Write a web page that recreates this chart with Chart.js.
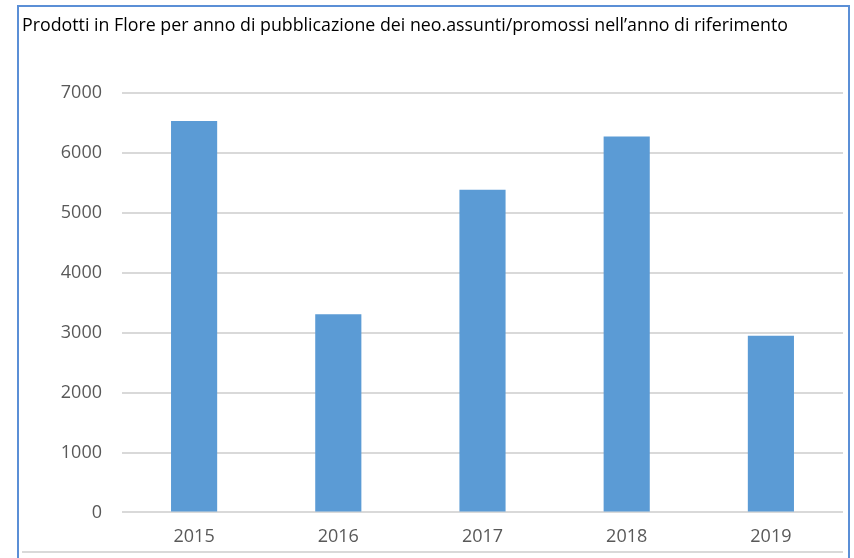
<!DOCTYPE html>
<html>
<head>
<meta charset="utf-8">
<script src="https://cdn.jsdelivr.net/npm/chart.js@4.4.0/dist/chart.umd.min.js"></script>
<style>
    body { margin: 0; background: #fff; }
    #wrap { position: relative; width: 854px; height: 558px; overflow: hidden; }
    #frame {
        position: absolute; left: 17px; top: 5px; width: 829px; height: 560px;
        border: 2px solid #5b8fd6; pointer-events: none;
    }
    #baseline {
        position: absolute; left: 22px; top: 551px; width: 821px; height: 2px;
        background: #d9d9d9;
    }
</style>
</head>
<body>
<div id="wrap">
    <canvas id="floreChart" width="854" height="558"></canvas>
    <div id="frame"></div>
    <div id="baseline"></div>
</div>
<script>
const chartTitle = 'Prodotti in Flore per anno di pubblicazione dei neo.assunti/promossi nell\u2019anno di riferimento';
const years = ['2015', '2016', '2017', '2018', '2019'];
const prodotti = [6540, 3310, 5390, 6280, 2950];
const yTicks = [0, 1000, 2000, 3000, 4000, 5000, 6000, 7000];

const tickColor = '#595959';
const gridColor = '#d9d9d9';

const ctx = document.getElementById('floreChart').getContext('2d');
const floreChart = new Chart(ctx, {
    type: 'bar',
    data: {
        labels: years,
        datasets: [{
            label: 'Prodotti',
            data: prodotti,
            backgroundColor: '#5b9bd5',
            borderWidth: 0,
            categoryPercentage: 1,
            barPercentage: 0.32
        }]
    },
    options: {
        responsive: false,
        animation: false,
        layout: {
            padding: { left: 22, right: 11, top: 0, bottom: 4 }
        },
        plugins: {
            legend: { display: false },
            tooltip: { enabled: false },
            title: {
                display: true,
                text: chartTitle,
                align: 'start',
                color: '#000',
                font: { family: 'Open Sans', size: 17.8, weight: 'normal' },
                padding: { top: 15, bottom: 57 }
            }
        },
        scales: {
            x: {
                grid: { display: false },
                border: { display: false },
                ticks: {
                    color: tickColor,
                    font: { family: 'Open Sans', size: 18 },
                    padding: 6
                }
            },
            y: {
                min: 0,
                max: yTicks[yTicks.length - 1],
                afterBuildTicks: (scale) => {
                    scale.ticks = yTicks.map(v => ({ value: v }));
                },
                afterFit: (scale) => {
                    scale.width = 100;
                },
                grid: {
                    color: gridColor,
                    lineWidth: 2,
                    drawTicks: false
                },
                border: { display: false },
                ticks: {
                    color: tickColor,
                    font: { family: 'Open Sans', size: 18 },
                    padding: 20,
                    callback: (value) => String(value)
                }
            }
        }
    }
});
</script>
</body>
</html>
